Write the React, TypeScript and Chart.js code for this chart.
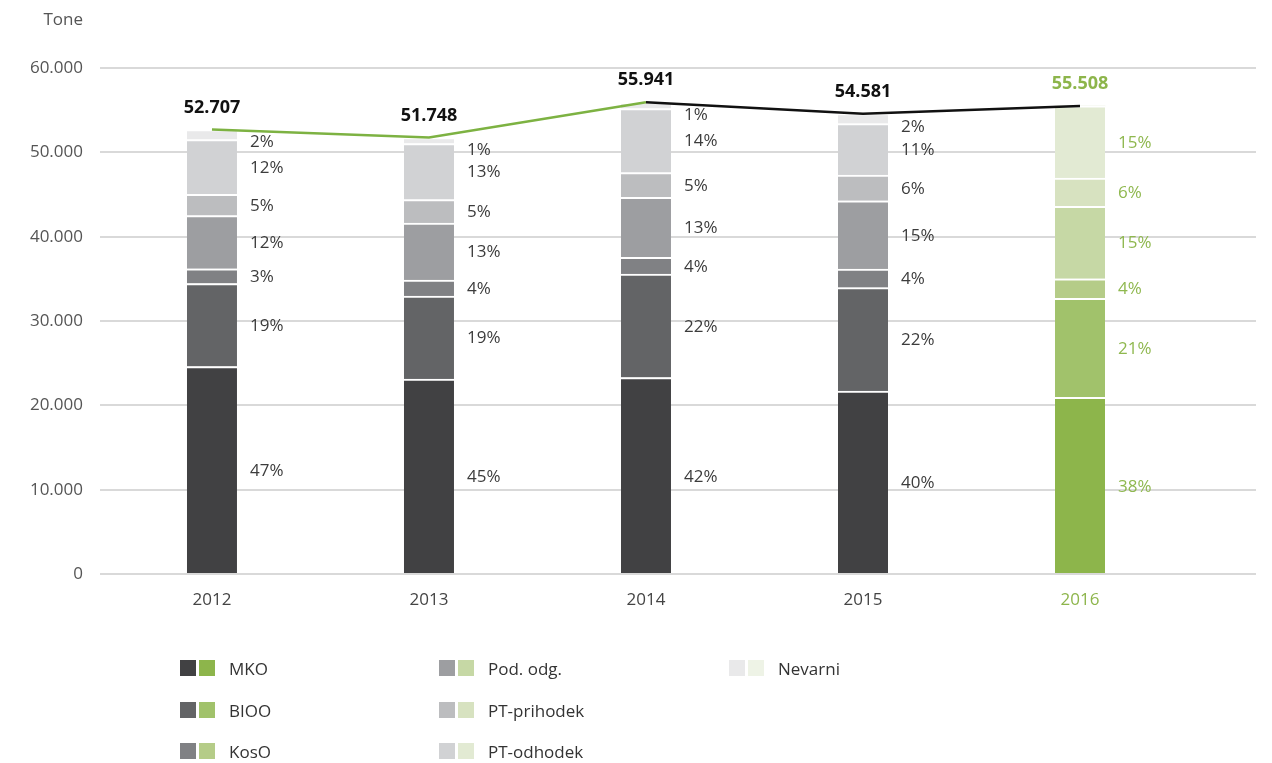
import React, { useEffect, useRef } from 'react';
import { Chart, registerables } from 'chart.js';

Chart.register(...registerables);

// ---- data ----
const years = ['2012', '2013', '2014', '2015', '2016'];
const totals = [52707, 51748, 55941, 54581, 55508];
const seriesNames = ['MKO', 'BIOO', 'KosO', 'Pod. odg.', 'PT-prihodek', 'PT-odhodek', 'Nevarni'];
const mko = [24600, 23100, 23300, 21700, 20950];
const bioo = [9850, 9850, 12250, 12250, 11750];
const koso = [1750, 1900, 2000, 2200, 2300];
const podOdg = [6300, 6750, 7100, 8100, 8600];
const ptPrihodek = [2507, 2800, 2950, 3050, 3358];
const ptOdhodek = [6500, 6648, 7600, 6100, 8550];
const nevarni = [1200, 700, 741, 1181, 0];
const yTickValues = [0, 10000, 20000, 30000, 40000, 50000, 60000];
const yUnit = 'Tone';

// ---- styles ----
const greyColors = ['#414143', '#636466', '#808184', '#9d9ea1', '#bcbdbf', '#d1d2d4', '#e9e9ea'];
const greenColors = ['#8db54b', '#a1c26b', '#b5cc88', '#c6d8a5', '#d7e2c0', '#e2ead3', '#eef3e6'];
const GREEN = '#8db54b';
const LINE_GREEN = '#7db242';
const FONT = '"Open Sans", "Noto Sans", sans-serif';
const HIGHLIGHT = 4;

const seriesData = [mko, bioo, koso, podOdg, ptPrihodek, ptOdhodek, nevarni];

function fmt(v: number): string {
  const s = String(Math.round(v));
  return s.replace(/\B(?=(\d{3})+(?!\d))/g, '.');
}

const labelPlugin = {
  id: 'customLabels',
  afterDatasetsDraw(chart: any) {
    const ctx = chart.ctx as CanvasRenderingContext2D;
    const xs = chart.scales.x;
    const ys = chart.scales.y;
    ctx.save();
    // unit label
    ctx.font = `17px ${FONT}`;
    ctx.fillStyle = '#555';
    ctx.textAlign = 'right';
    ctx.textBaseline = 'middle';
    ctx.fillText(yUnit, 83, 20);

    for (let i = 0; i < years.length; i++) {
      const cx = xs.getPixelForValue(i);
      const items: { y: number; text: string }[] = [];
      let cum = 0;
      seriesData.forEach((s) => {
        const v = s[i];
        const y0 = ys.getPixelForValue(cum);
        cum += v;
        const y1 = ys.getPixelForValue(cum);
        if (v > 0) items.push({ y: (y0 + y1) / 2, text: Math.round((v / totals[i]) * 100) + '%' });
      });
      const barTop = ys.getPixelForValue(cum);
      // top-to-bottom order
      items.reverse();
      if (items.length) items[0].y = Math.max(items[0].y, barTop + 12);
      const gap = 22;
      for (let k = 1; k < items.length; k++) {
        if (items[k].y < items[k - 1].y + gap) items[k].y = items[k - 1].y + gap;
      }
      ctx.font = `17px ${FONT}`;
      ctx.fillStyle = i === HIGHLIGHT ? '#8fb84f' : '#3c3c3c';
      ctx.textAlign = 'left';
      ctx.textBaseline = 'middle';
      items.forEach((it) => ctx.fillText(it.text, cx + 38, it.y + 1));

      // totals
      ctx.font = `bold 18px ${FONT}`;
      ctx.fillStyle = i === HIGHLIGHT ? GREEN : '#111';
      ctx.textAlign = 'center';
      ctx.fillText(fmt(totals[i]), cx, ys.getPixelForValue(totals[i]) - 22);
    }
    ctx.restore();
  },
};

function App() {
  const ref = useRef<HTMLCanvasElement | null>(null);

  useEffect(() => {
    if (!ref.current) return;
    const barSets = seriesData.map((s, k) => ({
      type: 'bar' as const,
      label: seriesNames[k],
      data: s.map((v, i) => ({ x: i, y: v })),
      backgroundColor: years.map((_, i) => (i === HIGHLIGHT ? greenColors[k] : greyColors[k])),
      borderColor: '#ffffff',
      borderWidth: { top: 2, left: 0, right: 0, bottom: 0 },
      borderSkipped: false,
      barThickness: 50,
      stack: 'bars',
      order: 2,
    }));
    const lineSet = {
      type: 'line' as const,
      label: 'Skupaj',
      data: totals.map((v, i) => ({ x: i, y: v })),
      borderColor: LINE_GREEN,
      borderWidth: 2.5,
      pointRadius: 0,
      tension: 0,
      fill: false,
      stack: 'line',
      order: 0,
      segment: {
        borderColor: (c: any) => (c.p0DataIndex < 2 ? LINE_GREEN : '#111111'),
      },
    };
    const chart = new Chart(ref.current, {
      type: 'bar',
      data: { datasets: [...barSets, lineSet] as any },
      plugins: [labelPlugin],
      options: {
        animation: false,
        responsive: true,
        maintainAspectRatio: false,
        layout: { padding: { top: 68, right: 16, bottom: 0, left: 0 } },
        plugins: { legend: { display: false }, tooltip: { enabled: false } },
        scales: {
          x: {
            type: 'linear',
            stacked: true,
            offset: false,
            min: -0.516,
            max: 4.811,
            grid: { display: false, drawTicks: false },
            border: { display: false },
            afterBuildTicks: (scale: any) => {
              scale.ticks = years.map((_, i) => ({ value: i }));
            },
            afterFit: (scale: any) => {
              scale.height = 189;
            },
            ticks: {
              padding: 16,
              autoSkip: false,
              maxRotation: 0,
              font: { family: FONT, size: 17 },
              color: (c: any) => (c.tick && c.tick.value === HIGHLIGHT ? GREEN : '#444'),
              callback: (v: any) => years[v as number] ?? '',
            },
          },
          y: {
            stacked: true,
            min: 0,
            max: 60000,
            grid: { color: '#d9d9d9', lineWidth: 2, drawTicks: false },
            border: { display: false },
            afterBuildTicks: (scale: any) => {
              scale.ticks = yTickValues.map((v) => ({ value: v }));
            },
            afterFit: (scale: any) => {
              scale.width = 100;
            },
            ticks: {
              padding: 17,
              font: { family: FONT, size: 17 },
              color: '#555',
              callback: (v: any) => fmt(Number(v)),
            },
          },
        },
      } as any,
    });
    return () => chart.destroy();
  }, []);

  const legendCols = [
    { x: 180, items: [0, 1, 2] },
    { x: 439, items: [3, 4, 5] },
    { x: 729, items: [6] },
  ];
  const rowY = [668, 710, 751];

  return (
    <div style={{ position: 'absolute', left: 0, top: 0, width: 1272, height: 763, background: '#fff' }}>
      <canvas ref={ref} />
      {legendCols.map((col) =>
        col.items.map((k, r) => (
          <div
            key={k}
            style={{
              position: 'absolute',
              left: col.x,
              top: rowY[r] - 12,
              height: 24,
              display: 'flex',
              alignItems: 'center',
              fontFamily: FONT,
              fontSize: 17,
              color: '#333',
              whiteSpace: 'nowrap',
            }}
          >
            <span style={{ width: 16, height: 16, background: greyColors[k], display: 'inline-block' }} />
            <span style={{ width: 16, height: 16, background: greenColors[k], display: 'inline-block', marginLeft: 3 }} />
            <span style={{ marginLeft: 14 }}>{seriesNames[k]}</span>
          </div>
        ))
      )}
    </div>
  );
}

export default App;
